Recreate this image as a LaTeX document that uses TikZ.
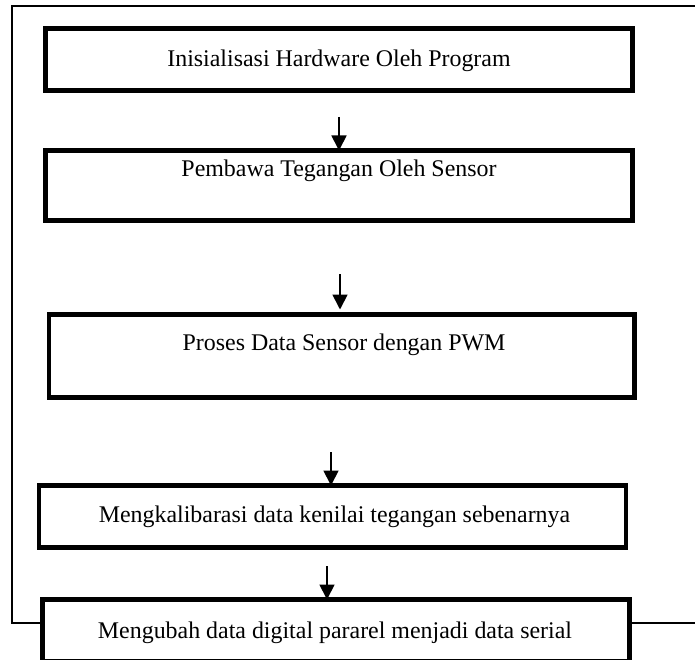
\documentclass[tikz,border=0pt]{standalone}
\usepackage{fontspec}
\setmainfont{Liberation Serif}
\usetikzlibrary{arrows.meta}
\begin{document}
\begin{tikzpicture}[x=1bp,y=-1bp,
  stepbox/.style={draw=black,line width=4.8bp,rectangle,inner sep=0pt,outer sep=0pt},
  steptext/.style={anchor=base,inner sep=0pt,font=\fontsize{24}{28}\selectfont},
  flowarrow/.style={line width=1.8bp,-{Triangle[width=15bp,length=15bp]}},
  frameline/.style={line width=2bp}]
\useasboundingbox (0,0) rectangle (695,660);
% boxes
\node[stepbox,minimum width=587bp,minimum height=62bp] (b1) at (339,59.5) {};
\node[stepbox,minimum width=587bp,minimum height=70bp] (b2) at (339,185.5) {};
\node[stepbox,minimum width=585.5bp,minimum height=83bp] (b3) at (341.75,356) {};
\node[stepbox,minimum width=587bp,minimum height=62bp] (b4) at (332.5,516.5) {};
\node[stepbox,minimum width=587bp,minimum height=62bp] (b5) at (336,630.5) {};
% texts
\node[steptext] (t1) at (339,67) {Inisialisasi Hardware Oleh Program};
\node[steptext] (t2) at (339,176) {Pembawa Tegangan Oleh Sensor};
\node[steptext] (t3) at (344,350) {Proses Data Sensor dengan PWM};
\node[steptext] (t4) at (334.5,522) {Mengkalibarasi data kenilai tegangan sebenarnya};
\node[steptext] (t5) at (335,638) {Mengubah data digital pararel menjadi data serial};
% arrows
\coordinate (a1) at (339,117);
\coordinate (a2) at (340,274);
\coordinate (a3) at (331,452);
\coordinate (a4) at (327,566);
\draw[flowarrow] (a1) -- (a1 |- b2.north);
\draw[flowarrow,shorten >=5bp] (a2) -- (a2 |- b3.north);
\draw[flowarrow] (a3) -- (a3 |- b4.north);
\draw[flowarrow] (a4) -- (a4 |- b5.north);
% outer frame line
\coordinate (fbl) at (12,623);
\coordinate (ftl) at (12,5.7);
\coordinate (ftr) at (695,5.7);
\coordinate (fbr) at (695,623);
\draw[frameline] (b5.west |- fbl) -- (fbl) -- (ftl) -- (ftr);
\draw[frameline] (b5.east |- fbr) -- (fbr);
\end{tikzpicture}
\end{document}
